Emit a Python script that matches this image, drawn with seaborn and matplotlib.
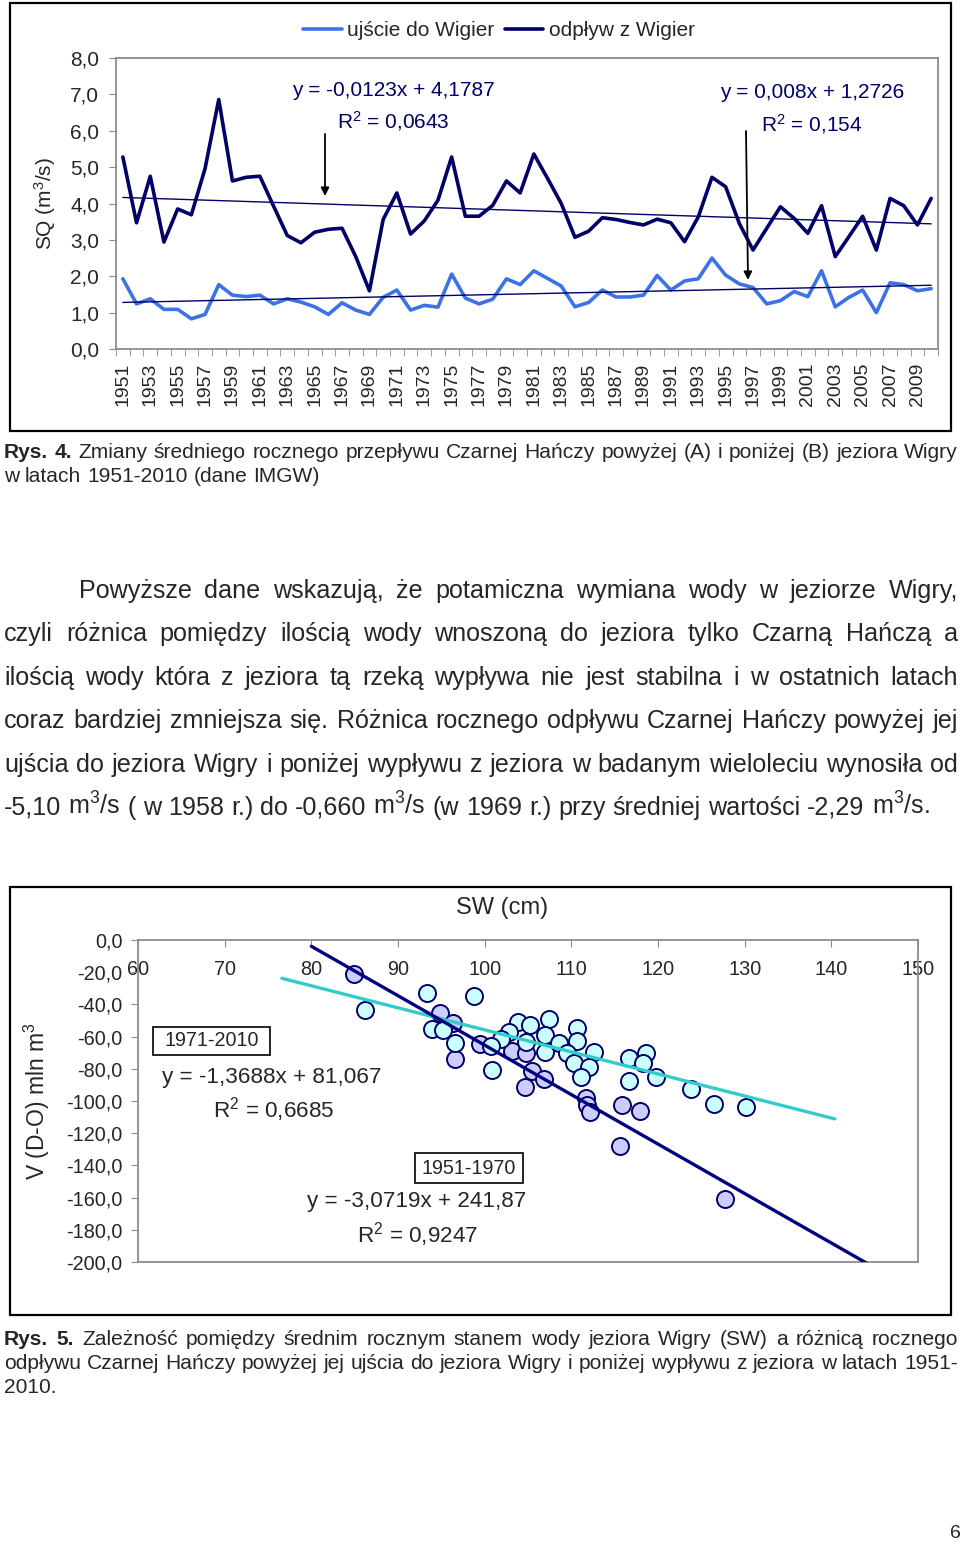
import matplotlib
matplotlib.use("Agg")
import matplotlib.pyplot as plt
import seaborn as sns
import pandas as pd
import numpy as np
from matplotlib.lines import Line2D
from matplotlib.patches import Rectangle
from matplotlib.ticker import FuncFormatter, MultipleLocator, FixedLocator

# --- dane: Rys. 4 (SQ m3/s) ---
lata = list(range(1951, 2011))
ujscie = [1.93, 1.24, 1.38, 1.09, 1.09, 0.83, 0.95, 1.77, 1.48, 1.44,
          1.48, 1.24, 1.38, 1.29, 1.16, 0.95, 1.27, 1.07, 0.95, 1.42,
          1.62, 1.07, 1.20, 1.15, 2.06, 1.40, 1.24, 1.37, 1.93, 1.77,
          2.15, 1.94, 1.73, 1.16, 1.28, 1.62, 1.43, 1.43, 1.48, 2.02,
          1.62, 1.87, 1.93, 2.50, 2.03, 1.79, 1.69, 1.24, 1.33, 1.58,
          1.44, 2.15, 1.16, 1.42, 1.62, 1.00, 1.82, 1.77, 1.60, 1.66]
odplyw = [5.28, 3.47, 4.75, 2.94, 3.85, 3.69, 4.96, 6.86, 4.62, 4.72,
          4.75, 3.93, 3.12, 2.92, 3.21, 3.29, 3.32, 2.54, 1.60, 3.56,
          4.29, 3.16, 3.52, 4.09, 5.28, 3.65, 3.65, 3.95, 4.62, 4.29,
          5.36, 4.69, 4.00, 3.07, 3.24, 3.61, 3.56, 3.48, 3.41, 3.57,
          3.47, 2.95, 3.63, 4.72, 4.46, 3.45, 2.72, 3.32, 3.91, 3.59,
          3.18, 3.94, 2.54, 3.09, 3.65, 2.72, 4.14, 3.94, 3.41, 4.14]
trend_odplyw = [-0.0123, 4.1787]
trend_ujscie = [0.008, 1.2726]

# --- dane: Rys. 5 (SW cm vs V mln m3) ---
sw_5170 = [84.9, 94.8, 96.4, 96.6, 99.5, 103.2, 104.8, 105.5, 106.8, 104.7,
           111.7, 111.8, 112.2, 115.8, 117.9, 115.6, 127.7]
v_5170 = [-21.1, -45.5, -51.3, -74.1, -64.8, -68.8, -70.4, -81.6, -86.5, -91.1,
          -98.3, -102.5, -106.6, -102.5, -106.0, -128.0, -160.9]
sw_7110 = [86.2, 93.3, 98.8, 93.9, 95.2, 96.6, 100.9, 103.8, 105.2, 107.4,
           102.8, 101.9, 104.8, 107.0, 107.0, 108.6, 110.6, 110.7, 109.5, 110.3,
           112.6, 112.0, 111.1, 116.7, 116.6, 118.6, 118.3, 119.8, 123.8, 126.5,
           130.2, 100.7]
v_7110 = [-43.5, -32.9, -34.8, -55.3, -55.9, -63.8, -80.7, -50.7, -52.8, -49.1,
          -57.0, -61.7, -63.2, -59.0, -69.4, -63.8, -54.9, -62.5, -70.4, -76.2,
          -69.4, -78.7, -85.3, -73.5, -87.4, -70.0, -76.6, -84.9, -92.7, -101.9,
          -103.5, -65.8]
trend_5170 = [-3.0719, 241.87]
trend_7110 = [-1.3688, 81.067]
zakres_5170 = [80.0, 150.0]
zakres_7110 = [76.6, 140.4]

W, H = 960, 1543
sns.set_style("white")
FONT = ['Liberation Sans', 'DejaVu Sans']
plt.rcParams['font.family'] = FONT
plt.rcParams['mathtext.fontset'] = 'custom'
plt.rcParams['mathtext.rm'] = 'Liberation Sans'
plt.rcParams['mathtext.it'] = 'Liberation Sans'
plt.rcParams['mathtext.default'] = 'regular'

NAVY = '#000066'
LIGHT = '#3d72e6'
GRAY = '#8c8c8c'

def fx(px):
    return px / W

def fy(py):
    return 1 - py / H

fig = plt.figure(figsize=(W / 100, H / 100), dpi=100)
renderer = fig.canvas.get_renderer()

def arrow(x0, y0, x1, y1):
    fig.axes[0].annotate('', xy=(x1, H - y1), xycoords='figure pixels',
                         xytext=(x0, H - y0), textcoords='figure pixels',
                         arrowprops=dict(arrowstyle='-|>', color='black', lw=1.3,
                                         mutation_scale=12, shrinkA=0, shrinkB=0),
                         annotation_clip=False)

def frame(x0, y0, x1, y1, lw=1.6):
    fig.add_artist(Rectangle((fx(x0), fy(y1)), (x1 - x0) / W, (y1 - y0) / H,
                             transform=fig.transFigure, fill=False, lw=lw, ec='black'))

def fit_size(text, target_px):
    # rozmiar czcionki, przy ktorym tekst ma zadana szerokosc
    t = fig.text(0, 0, text, fontsize=10)
    w = t.get_window_extent(renderer).width
    t.remove()
    return 10 * target_px / w

# ================= Rys. 4 =================
frame(10, 3, 951, 431)
ax1 = fig.add_axes([fx(116), fy(349), (938 - 116) / W, (349 - 58) / H])
df = pd.DataFrame({
    'idx': list(range(len(lata))) * 2,
    'SQ': ujscie + odplyw,
    'seria': ['ujście do Wigier'] * len(lata) + ['odpływ z Wigier'] * len(lata),
})
sns.lineplot(data=df, x='idx', y='SQ', hue='seria',
             palette={'ujście do Wigier': LIGHT, 'odpływ z Wigier': NAVY},
             linewidth=2.6, legend=False, ax=ax1)
t = np.arange(1, len(lata) + 1)
for a, b in (trend_odplyw, trend_ujscie):
    sns.lineplot(x=t - 1, y=a * t + b, color=NAVY, linewidth=1.0, ax=ax1)

ax1.set_xlim(-0.5, len(lata) - 0.5)
ax1.set_ylim(0, 8)
ax1.yaxis.set_major_locator(MultipleLocator(1))
ax1.yaxis.set_major_formatter(FuncFormatter(lambda v, p: f"{v:.1f}".replace('.', ',')))
ax1.xaxis.set_major_locator(FixedLocator(list(range(0, len(lata), 2))))
ax1.set_xticklabels([str(y) for y in lata[::2]], rotation=90)
ax1.xaxis.set_minor_locator(FixedLocator(list(np.arange(-0.5, len(lata), 1.0))))
ax1.tick_params(axis='x', which='major', length=0, pad=10, labelsize=14)
ax1.tick_params(axis='x', which='minor', length=5, color=GRAY, direction='out', bottom=True)
ax1.tick_params(axis='y', length=5, color=GRAY, direction='out', left=True, labelsize=15, pad=7)
for s in ax1.spines.values():
    s.set_color(GRAY)
    s.set_linewidth(1.3)
ax1.set_xlabel('')
ax1.set_ylabel('SQ (m$^{3}$/s)', fontsize=15, labelpad=9)

handles = [Line2D([], [], color=LIGHT, lw=2.6), Line2D([], [], color=NAVY, lw=2.6)]
ax1.legend(handles, ['ujście do Wigier', 'odpływ z Wigier'], loc='center',
           bbox_to_anchor=(fx(499), fy(31)), bbox_transform=fig.transFigure,
           ncol=2, frameon=False, fontsize=15, handlelength=1.85,
           handletextpad=0.25, columnspacing=0.5)

fig.text(fx(393), fy(90), 'y = -0,0123x + 4,1787', color=NAVY, fontsize=15, ha='center', va='center')
fig.text(fx(393), fy(121), 'R$^{2}$ = 0,0643', color=NAVY, fontsize=15, ha='center', va='center')
fig.text(fx(812), fy(93), 'y = 0,008x + 1,2726', color=NAVY, fontsize=15, ha='center', va='center')
fig.text(fx(812), fy(124), 'R$^{2}$ = 0,154', color=NAVY, fontsize=15, ha='center', va='center')
arrow(325, 134, 325, 196)
arrow(746, 131, 748, 280)

# ================= tekst =================
def line_text(words, x0, x1, yc, size, bold_n=0, justify=True):
    objs = []
    for i, w in enumerate(words):
        objs.append(fig.text(0, 0, w, fontsize=size,
                             weight='bold' if i < bold_n else 'normal', va='baseline'))
    widths = [o.get_window_extent(renderer).width for o in objs]
    if justify and len(words) > 1:
        gap = (x1 - x0 - sum(widths)) / (len(words) - 1)
    else:
        gap = size * 1.389 * 0.278
    base = yc + size * 1.389 * 0.716 / 2
    x = x0
    for o, w in zip(objs, widths):
        o.set_position((fx(x), fy(base)))
        x += w + gap

cap4 = ["Rys. 4. Zmiany średniego rocznego przepływu Czarnej Hańczy powyżej (A) i poniżej (B) jeziora Wigry",
        "w latach 1951-2010 (dane IMGW)"]
cap_size = fit_size(cap4[1], 316)
line_text(cap4[0].split(), 4, 958, 450, cap_size, bold_n=2)
line_text(cap4[1].split(), 4, 958, 474, cap_size, justify=False)

para = ["Powyższe dane wskazują, że potamiczna wymiana wody w jeziorze Wigry,",
        "czyli różnica pomiędzy ilością wody wnoszoną do jeziora tylko Czarną Hańczą a",
        "ilością wody która z jeziora tą rzeką wypływa nie jest stabilna i w ostatnich latach",
        "coraz bardziej zmniejsza się. Różnica rocznego odpływu Czarnej Hańczy powyżej jej",
        "ujścia do jeziora Wigry i poniżej wypływu z jeziora w badanym wieloleciu wynosiła od",
        "-5,10 m$^{3}$/s ( w 1958 r.) do -0,660 m$^{3}$/s (w 1969 r.) przy średniej wartości -2,29 m$^{3}$/s."]
ys = [589, 632, 676, 719, 763, 806]
para_size = fit_size(para[-1], 926)
for i, (ln, yc) in enumerate(zip(para, ys)):
    line_text(ln.split(), 79 if i == 0 else 4, 958, yc, para_size,
              justify=(i < len(para) - 1))

# ================= Rys. 5 =================
frame(10, 887, 951, 1315)
ax2 = fig.add_axes([fx(138), fy(1262), (918 - 138) / W, (1262 - 940) / H])
sns.scatterplot(x=sw_5170, y=v_5170, s=150, color='#ccccff', edgecolor=NAVY,
                linewidth=1.4, ax=ax2, zorder=3)
sns.scatterplot(x=sw_7110, y=v_7110, s=150, color='#ccffff', edgecolor=NAVY,
                linewidth=1.4, ax=ax2, zorder=3)
for (a, b), rng, col in ((trend_7110, zakres_7110, '#33cccc'),
                         (trend_5170, zakres_5170, '#000080')):
    xx = np.array(rng)
    ax2.plot(xx, a * xx + b, color=col, lw=2.4, zorder=4)

ax2.set_xlim(60, 150)
ax2.set_ylim(-200, 0)
ax2.xaxis.set_major_locator(MultipleLocator(10))
ax2.yaxis.set_major_locator(MultipleLocator(20))
ax2.yaxis.set_major_formatter(FuncFormatter(lambda v, p: f"{v:.1f}".replace('.', ',')))
ax2.xaxis.set_ticks_position('top')
ax2.tick_params(axis='x', direction='in', length=5, color=GRAY, top=True, bottom=False,
                labeltop=True, labelbottom=False, labelsize=14.3, pad=-28)
ax2.tick_params(axis='y', direction='out', length=5, color=GRAY, left=True,
                labelsize=14.3, pad=6)
for s in ax2.spines.values():
    s.set_color(GRAY)
    s.set_linewidth(1.3)
ax2.set_ylabel('V (D-O) mln m$^{3}$', fontsize=16.5, labelpad=10)
fig.text(fx(502), fy(908), 'SW (cm)', fontsize=17, ha='center', va='center')

for (x0, y0, x1, y1), lab in (((153, 1027, 270, 1055), '1971-2010'),
                              ((415, 1153, 523, 1183), '1951-1970')):
    frame(x0, y0, x1, y1, lw=1.2)
    fig.text(fx((x0 + x1) / 2), fy((y0 + y1) / 2), lab, fontsize=14.2, ha='center', va='center')
fig.text(fx(272), fy(1078), 'y = -1,3688x + 81,067', fontsize=16.2, ha='center', va='center')
fig.text(fx(274), fy(1110), 'R$^{2}$ = 0,6685', fontsize=16.2, ha='center', va='center')
fig.text(fx(417), fy(1202), 'y = -3,0719x + 241,87', fontsize=16.2, ha='center', va='center')
fig.text(fx(418), fy(1235), 'R$^{2}$ = 0,9247', fontsize=16.2, ha='center', va='center')
arrow(255, 1016, 299, 989)
arrow(530, 1206, 662, 1155)

cap5 = ["Rys. 5. Zależność pomiędzy średnim rocznym stanem wody jeziora Wigry (SW) a różnicą rocznego",
        "odpływu Czarnej Hańczy powyżej jej ujścia do jeziora Wigry i poniżej wypływu z jeziora w latach 1951-",
        "2010."]
line_text(cap5[0].split(), 4, 958, 1337, cap_size, bold_n=2)
line_text(cap5[1].split(), 4, 958, 1361, cap_size)
line_text(cap5[2].split(), 4, 958, 1385, cap_size, justify=False)

fig.text(fx(955), fy(1533), '6', fontsize=14, ha='center', va='center')

fig.savefig('out.png', dpi=100)
